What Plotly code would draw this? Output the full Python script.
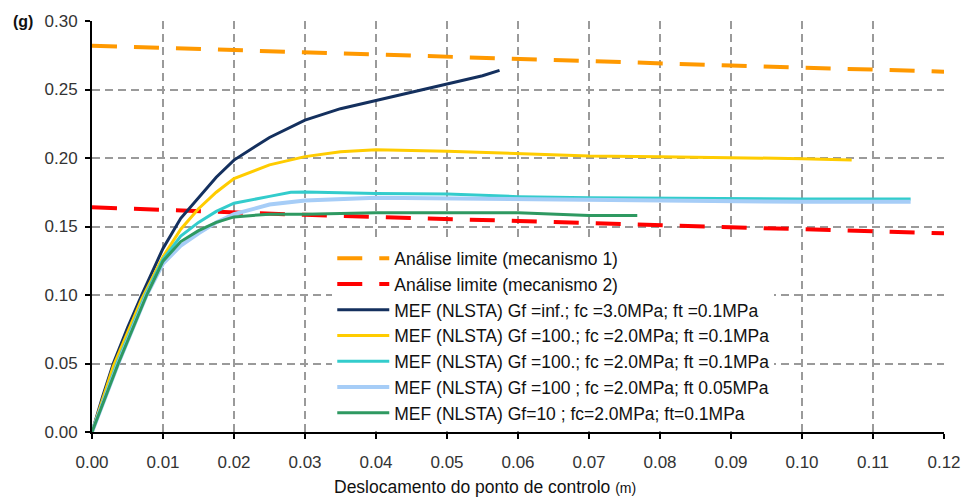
import plotly.graph_objects as go

# ---- data ----
lim1_x = [0.0, 0.03, 0.06, 0.09, 0.12]
lim1_y = [0.282, 0.277, 0.272, 0.2675, 0.263]

lim2_x = [0.0, 0.03, 0.06, 0.09, 0.12]
lim2_y = [0.164, 0.1585, 0.154, 0.1495, 0.145]

navy_x = [0, 0.0015, 0.003, 0.005, 0.007, 0.01, 0.0125, 0.015, 0.0175, 0.02, 0.025, 0.03, 0.035, 0.04, 0.045, 0.05, 0.055, 0.0574]
navy_y = [0, 0.026, 0.05, 0.076, 0.10, 0.134, 0.156, 0.171, 0.186, 0.1985, 0.215, 0.2276, 0.236, 0.242, 0.248, 0.2543, 0.260, 0.264]

yel_x = [0, 0.003, 0.007, 0.01, 0.0125, 0.015, 0.0175, 0.02, 0.025, 0.03, 0.035, 0.04, 0.05, 0.06, 0.07, 0.08, 0.09, 0.10, 0.107]
yel_y = [0, 0.048, 0.097, 0.128, 0.148, 0.163, 0.175, 0.185, 0.195, 0.201, 0.2045, 0.206, 0.205, 0.203, 0.2014, 0.201, 0.2005, 0.1995, 0.1985]

cyan_x = [0, 0.0035, 0.0075, 0.01, 0.0125, 0.015, 0.0175, 0.02, 0.025, 0.028, 0.03, 0.04, 0.05, 0.055, 0.06, 0.07, 0.08, 0.09, 0.10, 0.1153]
cyan_y = [0, 0.05, 0.10, 0.126, 0.143, 0.153, 0.161, 0.167, 0.172, 0.175, 0.1752, 0.174, 0.1737, 0.1725, 0.1718, 0.171, 0.1705, 0.170, 0.170, 0.170]

lblue_x = [0, 0.0037, 0.0077, 0.01, 0.0125, 0.015, 0.0175, 0.02, 0.025, 0.03, 0.04, 0.06, 0.08, 0.10, 0.1153]
lblue_y = [0, 0.05, 0.10, 0.123, 0.136, 0.145, 0.153, 0.159, 0.166, 0.169, 0.171, 0.170, 0.169, 0.168, 0.168]

green_x = [0, 0.0037, 0.0077, 0.01, 0.0125, 0.015, 0.0175, 0.02, 0.025, 0.03, 0.04, 0.05, 0.06, 0.07, 0.0768]
green_y = [0, 0.05, 0.10, 0.1247, 0.139, 0.147, 0.153, 0.157, 0.159, 0.159, 0.160, 0.160, 0.160, 0.158, 0.158]

names = [
    "Análise limite (mecanismo 1)",
    "Análise limite (mecanismo 2)",
    "MEF (NLSTA) Gf =inf.; fc =3.0MPa; ft =0.1MPa",
    "MEF (NLSTA) Gf =100.; fc =2.0MPa; ft =0.1MPa",
    "MEF (NLSTA) Gf =100.; fc =2.0MPa; ft =0.1MPa",
    "MEF (NLSTA) Gf =100 ; fc =2.0MPa; ft 0.05MPa",
    "MEF (NLSTA) Gf=10 ; fc=2.0MPa; ft=0.1MPa",
]

x_ticks = [i / 100 for i in range(0, 13)]
y_ticks = [0.0, 0.05, 0.10, 0.15, 0.20, 0.25, 0.30]

FONT = "Liberation Sans, Arial, sans-serif"

fig = go.Figure()
series = [
    (lim1_x, lim1_y, "#FF9900", 4, "25px,17px"),
    (lim2_x, lim2_y, "#FF0000", 4, "25px,17px"),
    (navy_x, navy_y, "#14305E", 3, "solid"),
    (yel_x, yel_y, "#FFCC00", 3, "solid"),
    (cyan_x, cyan_y, "#33CCCC", 3, "solid"),
    (lblue_x, lblue_y, "#A6CDF7", 4, "solid"),
    (green_x, green_y, "#2E9961", 3, "solid"),
]
for (xs, ys, col, w, dash), nm in zip(series, names):
    fig.add_trace(go.Scatter(x=xs, y=ys, mode="lines", name=nm,
                             line=dict(color=col, width=w, dash=dash)))

axis_common = dict(
    showline=True, linecolor="black", linewidth=2,
    ticks="outside", ticklen=5, tickcolor="black", tickwidth=2,
    showgrid=True, gridcolor="#9a9a9a", gridwidth=1.5, griddash="8px,5px",
    zeroline=False, tickformat=".2f",
    tickfont=dict(family=FONT, size=17, color="#333333"),
)

fig.update_layout(
    width=973, height=499,
    margin=dict(l=92, r=24, t=21, b=67),
    paper_bgcolor="white", plot_bgcolor="white",
    font=dict(family=FONT, color="#222222"),
    xaxis=dict(range=[0, 0.12], tickvals=x_ticks, ticklabelstandoff=9, **axis_common),
    yaxis=dict(range=[0, 0.30], tickvals=y_ticks, ticklabelstandoff=4, **axis_common),
    legend=dict(x=0.282, y=0.466, xanchor="left", yanchor="top",
                bgcolor="white", borderwidth=0,
                font=dict(family=FONT, size=17.5, color="#111111"),
                itemwidth=52, tracegroupgap=0),
    showlegend=True,
)

fig.add_annotation(text="<b>(g)</b>", xref="paper", yref="paper",
                   x=-0.081, y=1.0, xanchor="center", yanchor="middle",
                   showarrow=False, font=dict(family=FONT, size=16, color="#111111"))
fig.add_annotation(text="Deslocamento do ponto de controlo <span style='font-size:14px'>(m)</span>",
                   xref="paper", yref="paper", x=0.461, y=-0.134,
                   xanchor="center", yanchor="middle", showarrow=False,
                   font=dict(family=FONT, size=17.5, color="#111111"))

fig.write_html("out.html")
